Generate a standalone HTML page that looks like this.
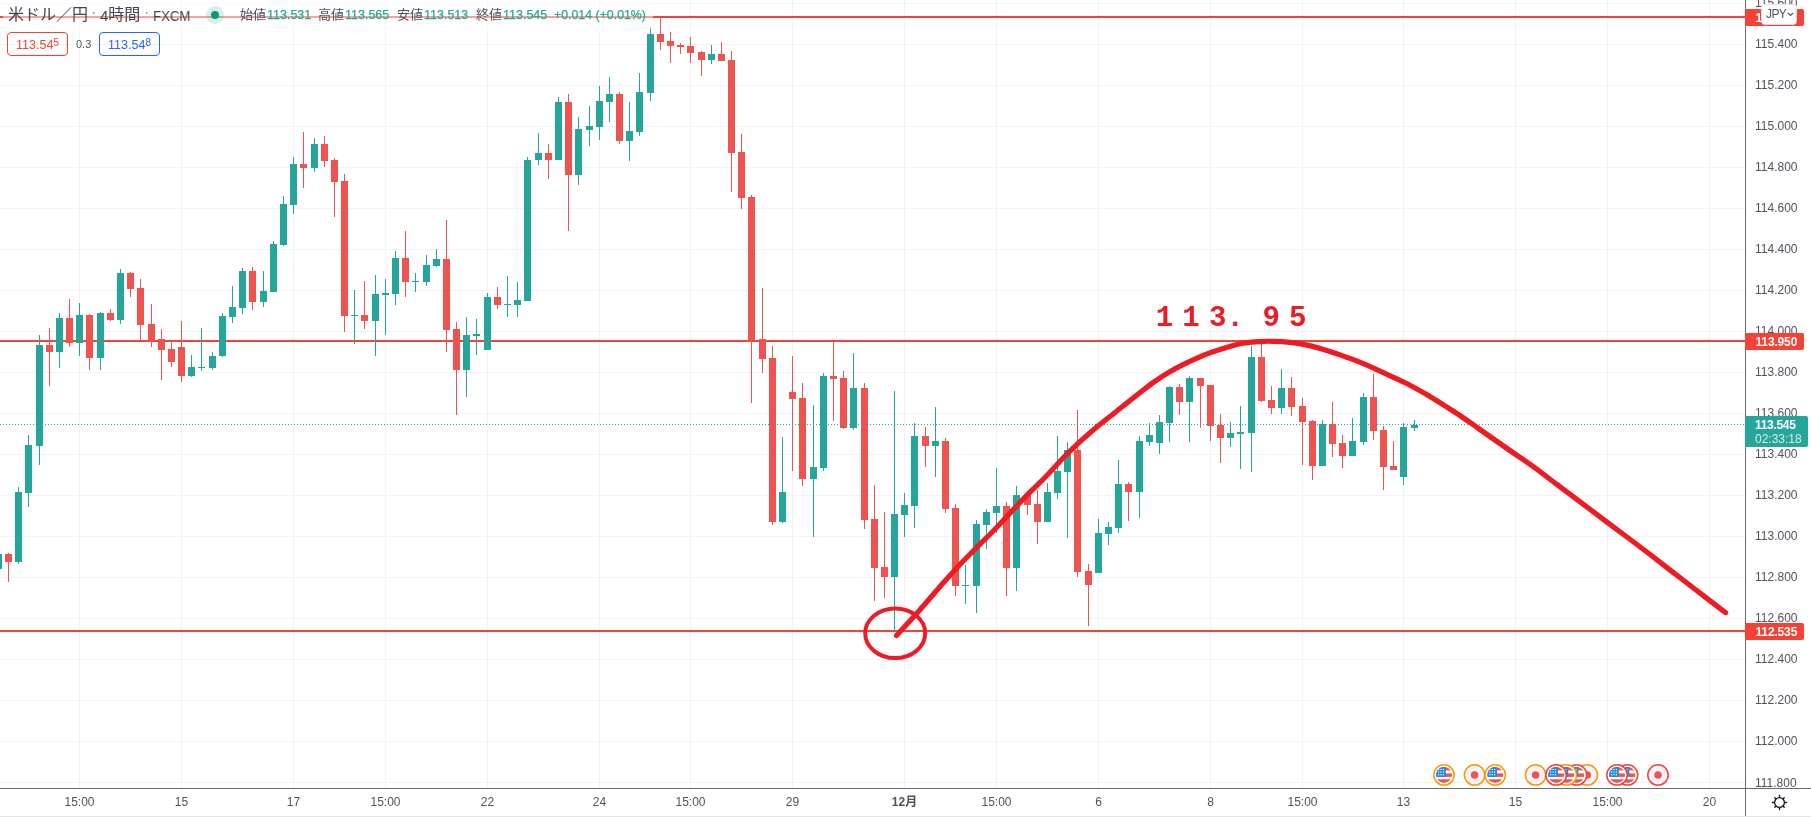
<!DOCTYPE html>
<html lang="ja"><head><meta charset="utf-8"><title>USDJPY</title>
<style>
html,body{margin:0;padding:0;background:#fff;}
body{width:1811px;height:817px;position:relative;overflow:hidden;font-family:"Liberation Sans","Noto Sans CJK JP",sans-serif;color:#50535e;}
svg{position:absolute;left:0;top:0;}
.pl{position:absolute;left:1755px;width:44px;height:14px;line-height:14px;font-size:12px;color:#50535e;white-space:nowrap;}
.tl{position:absolute;top:794px;width:61px;height:16px;line-height:16px;text-align:center;font-size:12px;color:#50535e;white-space:nowrap;}
.tag{position:absolute;left:1745px;width:59px;height:17px;background:#f44336;border-radius:0 2px 2px 0;color:#fff;font-weight:bold;font-size:12px;line-height:19px;letter-spacing:-0.15px;box-sizing:border-box;padding-left:10.5px;white-space:nowrap;}
.abs{position:absolute;white-space:nowrap;}
.pl,.tl,.tag,.abs{will-change:transform;}
</style></head><body>
<svg width="1811" height="817" viewBox="0 0 1811 817" shape-rendering="crispEdges">
<rect x="0" y="3" width="1745" height="1" fill="#f0f3fa"/>
<rect x="0" y="44" width="1745" height="1" fill="#f0f3fa"/>
<rect x="0" y="85" width="1745" height="1" fill="#f0f3fa"/>
<rect x="0" y="126" width="1745" height="1" fill="#f0f3fa"/>
<rect x="0" y="167" width="1745" height="1" fill="#f0f3fa"/>
<rect x="0" y="208" width="1745" height="1" fill="#f0f3fa"/>
<rect x="0" y="249" width="1745" height="1" fill="#f0f3fa"/>
<rect x="0" y="290" width="1745" height="1" fill="#f0f3fa"/>
<rect x="0" y="331" width="1745" height="1" fill="#f0f3fa"/>
<rect x="0" y="372" width="1745" height="1" fill="#f0f3fa"/>
<rect x="0" y="413" width="1745" height="1" fill="#f0f3fa"/>
<rect x="0" y="454" width="1745" height="1" fill="#f0f3fa"/>
<rect x="0" y="495" width="1745" height="1" fill="#f0f3fa"/>
<rect x="0" y="536" width="1745" height="1" fill="#f0f3fa"/>
<rect x="0" y="577" width="1745" height="1" fill="#f0f3fa"/>
<rect x="0" y="618" width="1745" height="1" fill="#f0f3fa"/>
<rect x="0" y="659" width="1745" height="1" fill="#f0f3fa"/>
<rect x="0" y="700" width="1745" height="1" fill="#f0f3fa"/>
<rect x="0" y="741" width="1745" height="1" fill="#f0f3fa"/>
<rect x="0" y="782" width="1745" height="1" fill="#f0f3fa"/>
<rect x="79" y="0" width="1" height="788" fill="#f0f3fa"/>
<rect x="181" y="0" width="1" height="788" fill="#f0f3fa"/>
<rect x="293" y="0" width="1" height="788" fill="#f0f3fa"/>
<rect x="385" y="0" width="1" height="788" fill="#f0f3fa"/>
<rect x="487" y="0" width="1" height="788" fill="#f0f3fa"/>
<rect x="599" y="0" width="1" height="788" fill="#f0f3fa"/>
<rect x="690" y="0" width="1" height="788" fill="#f0f3fa"/>
<rect x="792" y="0" width="1" height="788" fill="#f0f3fa"/>
<rect x="904" y="0" width="1" height="788" fill="#f0f3fa"/>
<rect x="996" y="0" width="1" height="788" fill="#f0f3fa"/>
<rect x="1098" y="0" width="1" height="788" fill="#f0f3fa"/>
<rect x="1210" y="0" width="1" height="788" fill="#f0f3fa"/>
<rect x="1302" y="0" width="1" height="788" fill="#f0f3fa"/>
<rect x="1403" y="0" width="1" height="788" fill="#f0f3fa"/>
<rect x="1515" y="0" width="1" height="788" fill="#f0f3fa"/>
<rect x="1607" y="0" width="1" height="788" fill="#f0f3fa"/>
<rect x="1709" y="0" width="1" height="788" fill="#f0f3fa"/>
<rect x="0" y="16" width="1745" height="2" fill="#f44336"/>
<rect x="0" y="340" width="1745" height="2" fill="#f44336"/>
<rect x="0" y="630" width="1745" height="2" fill="#f44336"/>
<rect x="-2" y="553" width="1" height="16" fill="#26a69a"/>
<rect x="-5" y="554" width="7" height="15" fill="#26a69a"/>
<rect x="8" y="553" width="1" height="29" fill="#ef5350"/>
<rect x="5" y="554" width="7" height="8" fill="#ef5350"/>
<rect x="18" y="487" width="1" height="77" fill="#26a69a"/>
<rect x="15" y="492" width="7" height="70" fill="#26a69a"/>
<rect x="28" y="435" width="1" height="72" fill="#26a69a"/>
<rect x="25" y="445" width="7" height="48" fill="#26a69a"/>
<rect x="39" y="335" width="1" height="130" fill="#26a69a"/>
<rect x="36" y="345" width="7" height="101" fill="#26a69a"/>
<rect x="49" y="328" width="1" height="58" fill="#ef5350"/>
<rect x="46" y="345" width="7" height="7" fill="#ef5350"/>
<rect x="59" y="313" width="1" height="55" fill="#26a69a"/>
<rect x="56" y="318" width="7" height="34" fill="#26a69a"/>
<rect x="69" y="299" width="1" height="48" fill="#ef5350"/>
<rect x="66" y="318" width="7" height="25" fill="#ef5350"/>
<rect x="79" y="303" width="1" height="53" fill="#26a69a"/>
<rect x="76" y="315" width="7" height="28" fill="#26a69a"/>
<rect x="89" y="314" width="1" height="56" fill="#ef5350"/>
<rect x="86" y="315" width="7" height="43" fill="#ef5350"/>
<rect x="100" y="312" width="1" height="58" fill="#26a69a"/>
<rect x="97" y="313" width="7" height="45" fill="#26a69a"/>
<rect x="110" y="309" width="1" height="12" fill="#ef5350"/>
<rect x="107" y="313" width="7" height="7" fill="#ef5350"/>
<rect x="120" y="269" width="1" height="55" fill="#26a69a"/>
<rect x="117" y="273" width="7" height="47" fill="#26a69a"/>
<rect x="130" y="272" width="1" height="25" fill="#ef5350"/>
<rect x="127" y="273" width="7" height="16" fill="#ef5350"/>
<rect x="140" y="279" width="1" height="62" fill="#ef5350"/>
<rect x="137" y="288" width="7" height="37" fill="#ef5350"/>
<rect x="151" y="304" width="1" height="43" fill="#ef5350"/>
<rect x="148" y="324" width="7" height="17" fill="#ef5350"/>
<rect x="161" y="329" width="1" height="51" fill="#ef5350"/>
<rect x="158" y="339" width="7" height="11" fill="#ef5350"/>
<rect x="171" y="341" width="1" height="26" fill="#ef5350"/>
<rect x="168" y="349" width="7" height="13" fill="#ef5350"/>
<rect x="181" y="321" width="1" height="61" fill="#ef5350"/>
<rect x="178" y="347" width="7" height="29" fill="#ef5350"/>
<rect x="191" y="355" width="1" height="22" fill="#26a69a"/>
<rect x="188" y="367" width="7" height="9" fill="#26a69a"/>
<rect x="201" y="328" width="1" height="43" fill="#26a69a"/>
<rect x="198" y="367" width="7" height="1" fill="#26a69a"/>
<rect x="212" y="352" width="1" height="18" fill="#26a69a"/>
<rect x="209" y="356" width="7" height="12" fill="#26a69a"/>
<rect x="222" y="313" width="1" height="44" fill="#26a69a"/>
<rect x="219" y="316" width="7" height="40" fill="#26a69a"/>
<rect x="232" y="286" width="1" height="37" fill="#26a69a"/>
<rect x="229" y="307" width="7" height="10" fill="#26a69a"/>
<rect x="242" y="268" width="1" height="46" fill="#26a69a"/>
<rect x="239" y="271" width="7" height="37" fill="#26a69a"/>
<rect x="252" y="267" width="1" height="43" fill="#ef5350"/>
<rect x="249" y="271" width="7" height="31" fill="#ef5350"/>
<rect x="263" y="271" width="1" height="36" fill="#26a69a"/>
<rect x="260" y="291" width="7" height="11" fill="#26a69a"/>
<rect x="273" y="241" width="1" height="51" fill="#26a69a"/>
<rect x="270" y="244" width="7" height="48" fill="#26a69a"/>
<rect x="283" y="196" width="1" height="50" fill="#26a69a"/>
<rect x="280" y="204" width="7" height="41" fill="#26a69a"/>
<rect x="293" y="157" width="1" height="57" fill="#26a69a"/>
<rect x="290" y="164" width="7" height="41" fill="#26a69a"/>
<rect x="303" y="132" width="1" height="56" fill="#ef5350"/>
<rect x="300" y="164" width="7" height="4" fill="#ef5350"/>
<rect x="314" y="138" width="1" height="34" fill="#26a69a"/>
<rect x="311" y="144" width="7" height="24" fill="#26a69a"/>
<rect x="324" y="136" width="1" height="31" fill="#ef5350"/>
<rect x="321" y="144" width="7" height="17" fill="#ef5350"/>
<rect x="334" y="158" width="1" height="59" fill="#ef5350"/>
<rect x="331" y="160" width="7" height="22" fill="#ef5350"/>
<rect x="344" y="174" width="1" height="158" fill="#ef5350"/>
<rect x="341" y="181" width="7" height="135" fill="#ef5350"/>
<rect x="354" y="290" width="1" height="54" fill="#26a69a"/>
<rect x="351" y="315" width="7" height="1" fill="#26a69a"/>
<rect x="364" y="281" width="1" height="48" fill="#ef5350"/>
<rect x="361" y="315" width="7" height="6" fill="#ef5350"/>
<rect x="375" y="275" width="1" height="81" fill="#26a69a"/>
<rect x="372" y="294" width="7" height="27" fill="#26a69a"/>
<rect x="385" y="279" width="1" height="56" fill="#26a69a"/>
<rect x="382" y="293" width="7" height="2" fill="#26a69a"/>
<rect x="395" y="251" width="1" height="54" fill="#26a69a"/>
<rect x="392" y="258" width="7" height="36" fill="#26a69a"/>
<rect x="405" y="231" width="1" height="66" fill="#ef5350"/>
<rect x="402" y="258" width="7" height="24" fill="#ef5350"/>
<rect x="415" y="273" width="1" height="19" fill="#26a69a"/>
<rect x="412" y="281" width="7" height="1" fill="#26a69a"/>
<rect x="426" y="255" width="1" height="31" fill="#26a69a"/>
<rect x="423" y="265" width="7" height="17" fill="#26a69a"/>
<rect x="436" y="249" width="1" height="18" fill="#26a69a"/>
<rect x="433" y="259" width="7" height="7" fill="#26a69a"/>
<rect x="446" y="220" width="1" height="132" fill="#ef5350"/>
<rect x="443" y="259" width="7" height="71" fill="#ef5350"/>
<rect x="456" y="322" width="1" height="93" fill="#ef5350"/>
<rect x="453" y="329" width="7" height="41" fill="#ef5350"/>
<rect x="466" y="317" width="1" height="80" fill="#26a69a"/>
<rect x="463" y="335" width="7" height="35" fill="#26a69a"/>
<rect x="476" y="319" width="1" height="36" fill="#26a69a"/>
<rect x="473" y="334" width="7" height="2" fill="#26a69a"/>
<rect x="487" y="293" width="1" height="57" fill="#26a69a"/>
<rect x="484" y="297" width="7" height="53" fill="#26a69a"/>
<rect x="497" y="287" width="1" height="22" fill="#ef5350"/>
<rect x="494" y="297" width="7" height="8" fill="#ef5350"/>
<rect x="507" y="276" width="1" height="41" fill="#26a69a"/>
<rect x="504" y="304" width="7" height="1" fill="#26a69a"/>
<rect x="517" y="282" width="1" height="35" fill="#26a69a"/>
<rect x="514" y="300" width="7" height="5" fill="#26a69a"/>
<rect x="527" y="157" width="1" height="144" fill="#26a69a"/>
<rect x="524" y="160" width="7" height="141" fill="#26a69a"/>
<rect x="538" y="133" width="1" height="32" fill="#26a69a"/>
<rect x="535" y="153" width="7" height="7" fill="#26a69a"/>
<rect x="548" y="144" width="1" height="35" fill="#ef5350"/>
<rect x="545" y="153" width="7" height="7" fill="#ef5350"/>
<rect x="558" y="97" width="1" height="63" fill="#26a69a"/>
<rect x="555" y="102" width="7" height="58" fill="#26a69a"/>
<rect x="568" y="94" width="1" height="137" fill="#ef5350"/>
<rect x="565" y="102" width="7" height="73" fill="#ef5350"/>
<rect x="578" y="117" width="1" height="68" fill="#26a69a"/>
<rect x="575" y="129" width="7" height="46" fill="#26a69a"/>
<rect x="589" y="106" width="1" height="40" fill="#26a69a"/>
<rect x="586" y="126" width="7" height="4" fill="#26a69a"/>
<rect x="599" y="86" width="1" height="54" fill="#26a69a"/>
<rect x="596" y="101" width="7" height="26" fill="#26a69a"/>
<rect x="609" y="77" width="1" height="45" fill="#26a69a"/>
<rect x="606" y="94" width="7" height="8" fill="#26a69a"/>
<rect x="619" y="92" width="1" height="52" fill="#ef5350"/>
<rect x="616" y="94" width="7" height="47" fill="#ef5350"/>
<rect x="629" y="102" width="1" height="59" fill="#26a69a"/>
<rect x="626" y="131" width="7" height="10" fill="#26a69a"/>
<rect x="639" y="73" width="1" height="63" fill="#26a69a"/>
<rect x="636" y="92" width="7" height="40" fill="#26a69a"/>
<rect x="650" y="27" width="1" height="74" fill="#26a69a"/>
<rect x="647" y="34" width="7" height="59" fill="#26a69a"/>
<rect x="660" y="17" width="1" height="33" fill="#ef5350"/>
<rect x="657" y="34" width="7" height="8" fill="#ef5350"/>
<rect x="670" y="32" width="1" height="31" fill="#ef5350"/>
<rect x="667" y="41" width="7" height="5" fill="#ef5350"/>
<rect x="680" y="43" width="1" height="11" fill="#ef5350"/>
<rect x="677" y="45" width="7" height="2" fill="#ef5350"/>
<rect x="690" y="37" width="1" height="26" fill="#ef5350"/>
<rect x="687" y="46" width="7" height="7" fill="#ef5350"/>
<rect x="701" y="51" width="1" height="25" fill="#ef5350"/>
<rect x="698" y="52" width="7" height="8" fill="#ef5350"/>
<rect x="711" y="45" width="1" height="19" fill="#26a69a"/>
<rect x="708" y="54" width="7" height="6" fill="#26a69a"/>
<rect x="721" y="42" width="1" height="19" fill="#ef5350"/>
<rect x="718" y="54" width="7" height="7" fill="#ef5350"/>
<rect x="731" y="51" width="1" height="141" fill="#ef5350"/>
<rect x="728" y="60" width="7" height="93" fill="#ef5350"/>
<rect x="741" y="134" width="1" height="75" fill="#ef5350"/>
<rect x="738" y="152" width="7" height="46" fill="#ef5350"/>
<rect x="751" y="195" width="1" height="208" fill="#ef5350"/>
<rect x="748" y="197" width="7" height="144" fill="#ef5350"/>
<rect x="762" y="288" width="1" height="85" fill="#ef5350"/>
<rect x="759" y="339" width="7" height="20" fill="#ef5350"/>
<rect x="772" y="346" width="1" height="179" fill="#ef5350"/>
<rect x="769" y="358" width="7" height="164" fill="#ef5350"/>
<rect x="782" y="437" width="1" height="86" fill="#26a69a"/>
<rect x="779" y="492" width="7" height="30" fill="#26a69a"/>
<rect x="792" y="356" width="1" height="115" fill="#ef5350"/>
<rect x="789" y="392" width="7" height="7" fill="#ef5350"/>
<rect x="802" y="383" width="1" height="103" fill="#ef5350"/>
<rect x="799" y="398" width="7" height="81" fill="#ef5350"/>
<rect x="813" y="405" width="1" height="132" fill="#26a69a"/>
<rect x="810" y="467" width="7" height="12" fill="#26a69a"/>
<rect x="823" y="373" width="1" height="98" fill="#26a69a"/>
<rect x="820" y="376" width="7" height="92" fill="#26a69a"/>
<rect x="833" y="341" width="1" height="80" fill="#ef5350"/>
<rect x="830" y="376" width="7" height="3" fill="#ef5350"/>
<rect x="843" y="371" width="1" height="58" fill="#ef5350"/>
<rect x="840" y="378" width="7" height="50" fill="#ef5350"/>
<rect x="853" y="353" width="1" height="77" fill="#26a69a"/>
<rect x="850" y="388" width="7" height="40" fill="#26a69a"/>
<rect x="864" y="383" width="1" height="146" fill="#ef5350"/>
<rect x="861" y="388" width="7" height="132" fill="#ef5350"/>
<rect x="874" y="485" width="1" height="116" fill="#ef5350"/>
<rect x="871" y="519" width="7" height="49" fill="#ef5350"/>
<rect x="884" y="512" width="1" height="86" fill="#ef5350"/>
<rect x="881" y="567" width="7" height="10" fill="#ef5350"/>
<rect x="894" y="391" width="1" height="241" fill="#26a69a"/>
<rect x="891" y="514" width="7" height="63" fill="#26a69a"/>
<rect x="904" y="493" width="1" height="44" fill="#26a69a"/>
<rect x="901" y="505" width="7" height="10" fill="#26a69a"/>
<rect x="914" y="423" width="1" height="105" fill="#26a69a"/>
<rect x="911" y="436" width="7" height="70" fill="#26a69a"/>
<rect x="925" y="427" width="1" height="40" fill="#ef5350"/>
<rect x="922" y="436" width="7" height="10" fill="#ef5350"/>
<rect x="935" y="407" width="1" height="70" fill="#26a69a"/>
<rect x="932" y="441" width="7" height="5" fill="#26a69a"/>
<rect x="945" y="438" width="1" height="75" fill="#ef5350"/>
<rect x="942" y="441" width="7" height="68" fill="#ef5350"/>
<rect x="955" y="504" width="1" height="92" fill="#ef5350"/>
<rect x="952" y="508" width="7" height="78" fill="#ef5350"/>
<rect x="965" y="565" width="1" height="39" fill="#26a69a"/>
<rect x="962" y="585" width="7" height="1" fill="#26a69a"/>
<rect x="976" y="520" width="1" height="93" fill="#26a69a"/>
<rect x="973" y="524" width="7" height="62" fill="#26a69a"/>
<rect x="986" y="509" width="1" height="40" fill="#26a69a"/>
<rect x="983" y="512" width="7" height="13" fill="#26a69a"/>
<rect x="996" y="468" width="1" height="65" fill="#26a69a"/>
<rect x="993" y="506" width="7" height="7" fill="#26a69a"/>
<rect x="1006" y="502" width="1" height="94" fill="#ef5350"/>
<rect x="1003" y="506" width="7" height="62" fill="#ef5350"/>
<rect x="1016" y="486" width="1" height="105" fill="#26a69a"/>
<rect x="1013" y="495" width="7" height="73" fill="#26a69a"/>
<rect x="1027" y="495" width="1" height="20" fill="#ef5350"/>
<rect x="1024" y="495" width="7" height="10" fill="#ef5350"/>
<rect x="1037" y="490" width="1" height="54" fill="#ef5350"/>
<rect x="1034" y="504" width="7" height="18" fill="#ef5350"/>
<rect x="1047" y="483" width="1" height="39" fill="#26a69a"/>
<rect x="1044" y="492" width="7" height="30" fill="#26a69a"/>
<rect x="1057" y="436" width="1" height="63" fill="#26a69a"/>
<rect x="1054" y="471" width="7" height="22" fill="#26a69a"/>
<rect x="1067" y="442" width="1" height="96" fill="#26a69a"/>
<rect x="1064" y="450" width="7" height="22" fill="#26a69a"/>
<rect x="1077" y="410" width="1" height="167" fill="#ef5350"/>
<rect x="1074" y="450" width="7" height="122" fill="#ef5350"/>
<rect x="1088" y="564" width="1" height="62" fill="#ef5350"/>
<rect x="1085" y="571" width="7" height="14" fill="#ef5350"/>
<rect x="1098" y="519" width="1" height="54" fill="#26a69a"/>
<rect x="1095" y="533" width="7" height="40" fill="#26a69a"/>
<rect x="1108" y="522" width="1" height="23" fill="#26a69a"/>
<rect x="1105" y="527" width="7" height="7" fill="#26a69a"/>
<rect x="1118" y="460" width="1" height="73" fill="#26a69a"/>
<rect x="1115" y="484" width="7" height="44" fill="#26a69a"/>
<rect x="1128" y="482" width="1" height="39" fill="#ef5350"/>
<rect x="1125" y="484" width="7" height="8" fill="#ef5350"/>
<rect x="1139" y="436" width="1" height="82" fill="#26a69a"/>
<rect x="1136" y="441" width="7" height="51" fill="#26a69a"/>
<rect x="1149" y="423" width="1" height="23" fill="#26a69a"/>
<rect x="1146" y="435" width="7" height="7" fill="#26a69a"/>
<rect x="1159" y="415" width="1" height="39" fill="#26a69a"/>
<rect x="1156" y="422" width="7" height="21" fill="#26a69a"/>
<rect x="1169" y="386" width="1" height="56" fill="#26a69a"/>
<rect x="1166" y="387" width="7" height="36" fill="#26a69a"/>
<rect x="1179" y="384" width="1" height="31" fill="#ef5350"/>
<rect x="1176" y="387" width="7" height="15" fill="#ef5350"/>
<rect x="1189" y="376" width="1" height="66" fill="#26a69a"/>
<rect x="1186" y="378" width="7" height="24" fill="#26a69a"/>
<rect x="1200" y="378" width="1" height="50" fill="#ef5350"/>
<rect x="1197" y="378" width="7" height="8" fill="#ef5350"/>
<rect x="1210" y="385" width="1" height="56" fill="#ef5350"/>
<rect x="1207" y="385" width="7" height="41" fill="#ef5350"/>
<rect x="1220" y="414" width="1" height="49" fill="#ef5350"/>
<rect x="1217" y="425" width="7" height="13" fill="#ef5350"/>
<rect x="1230" y="422" width="1" height="25" fill="#26a69a"/>
<rect x="1227" y="433" width="7" height="5" fill="#26a69a"/>
<rect x="1240" y="406" width="1" height="63" fill="#26a69a"/>
<rect x="1237" y="432" width="7" height="2" fill="#26a69a"/>
<rect x="1251" y="346" width="1" height="126" fill="#26a69a"/>
<rect x="1248" y="357" width="7" height="76" fill="#26a69a"/>
<rect x="1261" y="343" width="1" height="59" fill="#ef5350"/>
<rect x="1258" y="357" width="7" height="44" fill="#ef5350"/>
<rect x="1271" y="386" width="1" height="28" fill="#ef5350"/>
<rect x="1268" y="400" width="7" height="8" fill="#ef5350"/>
<rect x="1281" y="369" width="1" height="45" fill="#26a69a"/>
<rect x="1278" y="388" width="7" height="20" fill="#26a69a"/>
<rect x="1291" y="377" width="1" height="39" fill="#ef5350"/>
<rect x="1288" y="388" width="7" height="19" fill="#ef5350"/>
<rect x="1302" y="398" width="1" height="67" fill="#ef5350"/>
<rect x="1299" y="406" width="7" height="16" fill="#ef5350"/>
<rect x="1312" y="420" width="1" height="60" fill="#ef5350"/>
<rect x="1309" y="421" width="7" height="45" fill="#ef5350"/>
<rect x="1322" y="420" width="1" height="46" fill="#26a69a"/>
<rect x="1319" y="424" width="7" height="42" fill="#26a69a"/>
<rect x="1332" y="402" width="1" height="55" fill="#ef5350"/>
<rect x="1329" y="424" width="7" height="20" fill="#ef5350"/>
<rect x="1342" y="435" width="1" height="33" fill="#ef5350"/>
<rect x="1339" y="443" width="7" height="13" fill="#ef5350"/>
<rect x="1352" y="418" width="1" height="38" fill="#26a69a"/>
<rect x="1349" y="441" width="7" height="15" fill="#26a69a"/>
<rect x="1363" y="393" width="1" height="52" fill="#26a69a"/>
<rect x="1360" y="397" width="7" height="45" fill="#26a69a"/>
<rect x="1373" y="374" width="1" height="66" fill="#ef5350"/>
<rect x="1370" y="397" width="7" height="34" fill="#ef5350"/>
<rect x="1383" y="426" width="1" height="64" fill="#ef5350"/>
<rect x="1380" y="430" width="7" height="37" fill="#ef5350"/>
<rect x="1393" y="441" width="1" height="29" fill="#ef5350"/>
<rect x="1390" y="466" width="7" height="4" fill="#ef5350"/>
<rect x="1403" y="423" width="1" height="62" fill="#26a69a"/>
<rect x="1400" y="427" width="7" height="50" fill="#26a69a"/>
<rect x="1414" y="420" width="1" height="11" fill="#26a69a"/>
<rect x="1411" y="425" width="7" height="3" fill="#26a69a"/>
<line x1="0" y1="424.5" x2="1745" y2="424.5" stroke="#26a69a" stroke-width="1" stroke-dasharray="1 2"/>
</svg>
<svg width="1811" height="817" viewBox="0 0 1811 817">
<defs><clipPath id="fc"><circle r="8"/></clipPath></defs><g transform="translate(1444 774.9)"><circle r="10.2" fill="#fff" stroke="#ff9800" stroke-width="1.5"/><g clip-path="url(#fc)"><rect x="-8" y="-8" width="16" height="16" fill="#fff"/><rect x="-8" y="-8" width="16" height="3.5" fill="#ef5350"/><rect x="-8" y="-1.5" width="16" height="3.5" fill="#ef5350"/><rect x="-8" y="4.4" width="16" height="3.6" fill="#ef5350"/><rect x="-8" y="-8" width="9.8" height="10" fill="#1e88e5"/><g fill="#fff"><rect x="-6" y="-6" width="1.2" height="1.2"/><rect x="-3.6" y="-6" width="1.2" height="1.2"/><rect x="-1.2" y="-6" width="1.2" height="1.2"/><rect x="-6" y="-3.4" width="1.2" height="1.2"/><rect x="-3.6" y="-3.4" width="1.2" height="1.2"/><rect x="-1.2" y="-3.4" width="1.2" height="1.2"/><rect x="-6" y="-0.8" width="1.2" height="1.2"/><rect x="-3.6" y="-0.8" width="1.2" height="1.2"/><rect x="-1.2" y="-0.8" width="1.2" height="1.2"/></g></g></g><g transform="translate(1474.6 774.9)"><circle r="10.2" fill="#f0f3fa" stroke="#ff9800" stroke-width="1.5"/><circle r="3.75" fill="#ef5350"/></g><g transform="translate(1495.2 774.9)"><circle r="10.2" fill="#fff" stroke="#ff9800" stroke-width="1.5"/><g clip-path="url(#fc)"><rect x="-8" y="-8" width="16" height="16" fill="#fff"/><rect x="-8" y="-8" width="16" height="3.5" fill="#ef5350"/><rect x="-8" y="-1.5" width="16" height="3.5" fill="#ef5350"/><rect x="-8" y="4.4" width="16" height="3.6" fill="#ef5350"/><rect x="-8" y="-8" width="9.8" height="10" fill="#1e88e5"/><g fill="#fff"><rect x="-6" y="-6" width="1.2" height="1.2"/><rect x="-3.6" y="-6" width="1.2" height="1.2"/><rect x="-1.2" y="-6" width="1.2" height="1.2"/><rect x="-6" y="-3.4" width="1.2" height="1.2"/><rect x="-3.6" y="-3.4" width="1.2" height="1.2"/><rect x="-1.2" y="-3.4" width="1.2" height="1.2"/><rect x="-6" y="-0.8" width="1.2" height="1.2"/><rect x="-3.6" y="-0.8" width="1.2" height="1.2"/><rect x="-1.2" y="-0.8" width="1.2" height="1.2"/></g></g></g><g transform="translate(1587.3 774.9)"><circle r="10.2" fill="#f0f3fa" stroke="#ff9800" stroke-width="1.5"/><circle r="3.75" fill="#ef5350"/></g><g transform="translate(1576.5 774.9)"><circle r="10.2" fill="#fff" stroke="#f44336" stroke-width="1.5"/><g clip-path="url(#fc)"><rect x="-8" y="-8" width="16" height="16" fill="#fff"/><rect x="-8" y="-8" width="16" height="3.5" fill="#ef5350"/><rect x="-8" y="-1.5" width="16" height="3.5" fill="#ef5350"/><rect x="-8" y="4.4" width="16" height="3.6" fill="#ef5350"/><rect x="-8" y="-8" width="9.8" height="10" fill="#1e88e5"/><g fill="#fff"><rect x="-6" y="-6" width="1.2" height="1.2"/><rect x="-3.6" y="-6" width="1.2" height="1.2"/><rect x="-1.2" y="-6" width="1.2" height="1.2"/><rect x="-6" y="-3.4" width="1.2" height="1.2"/><rect x="-3.6" y="-3.4" width="1.2" height="1.2"/><rect x="-1.2" y="-3.4" width="1.2" height="1.2"/><rect x="-6" y="-0.8" width="1.2" height="1.2"/><rect x="-3.6" y="-0.8" width="1.2" height="1.2"/><rect x="-1.2" y="-0.8" width="1.2" height="1.2"/></g></g></g><g transform="translate(1566.4 774.9)"><circle r="10.2" fill="#fff" stroke="#ff9800" stroke-width="1.5"/><g clip-path="url(#fc)"><rect x="-8" y="-8" width="16" height="16" fill="#fff"/><rect x="-8" y="-8" width="16" height="3.5" fill="#ef5350"/><rect x="-8" y="-1.5" width="16" height="3.5" fill="#ef5350"/><rect x="-8" y="4.4" width="16" height="3.6" fill="#ef5350"/><rect x="-8" y="-8" width="9.8" height="10" fill="#1e88e5"/><g fill="#fff"><rect x="-6" y="-6" width="1.2" height="1.2"/><rect x="-3.6" y="-6" width="1.2" height="1.2"/><rect x="-1.2" y="-6" width="1.2" height="1.2"/><rect x="-6" y="-3.4" width="1.2" height="1.2"/><rect x="-3.6" y="-3.4" width="1.2" height="1.2"/><rect x="-1.2" y="-3.4" width="1.2" height="1.2"/><rect x="-6" y="-0.8" width="1.2" height="1.2"/><rect x="-3.6" y="-0.8" width="1.2" height="1.2"/><rect x="-1.2" y="-0.8" width="1.2" height="1.2"/></g></g></g><g transform="translate(1535.6 774.9)"><circle r="10.2" fill="#f0f3fa" stroke="#ff9800" stroke-width="1.5"/><circle r="3.75" fill="#ef5350"/></g><g transform="translate(1556.1 774.9)"><circle r="10.2" fill="#fff" stroke="#f44336" stroke-width="1.5"/><g clip-path="url(#fc)"><rect x="-8" y="-8" width="16" height="16" fill="#fff"/><rect x="-8" y="-8" width="16" height="3.5" fill="#ef5350"/><rect x="-8" y="-1.5" width="16" height="3.5" fill="#ef5350"/><rect x="-8" y="4.4" width="16" height="3.6" fill="#ef5350"/><rect x="-8" y="-8" width="9.8" height="10" fill="#1e88e5"/><g fill="#fff"><rect x="-6" y="-6" width="1.2" height="1.2"/><rect x="-3.6" y="-6" width="1.2" height="1.2"/><rect x="-1.2" y="-6" width="1.2" height="1.2"/><rect x="-6" y="-3.4" width="1.2" height="1.2"/><rect x="-3.6" y="-3.4" width="1.2" height="1.2"/><rect x="-1.2" y="-3.4" width="1.2" height="1.2"/><rect x="-6" y="-0.8" width="1.2" height="1.2"/><rect x="-3.6" y="-0.8" width="1.2" height="1.2"/><rect x="-1.2" y="-0.8" width="1.2" height="1.2"/></g></g></g><g transform="translate(1627.5 774.9)"><circle r="10.2" fill="#fff" stroke="#f44336" stroke-width="1.5"/><g clip-path="url(#fc)"><rect x="-8" y="-8" width="16" height="16" fill="#fff"/><rect x="-8" y="-8" width="16" height="3.5" fill="#ef5350"/><rect x="-8" y="-1.5" width="16" height="3.5" fill="#ef5350"/><rect x="-8" y="4.4" width="16" height="3.6" fill="#ef5350"/><rect x="-8" y="-8" width="9.8" height="10" fill="#1e88e5"/><g fill="#fff"><rect x="-6" y="-6" width="1.2" height="1.2"/><rect x="-3.6" y="-6" width="1.2" height="1.2"/><rect x="-1.2" y="-6" width="1.2" height="1.2"/><rect x="-6" y="-3.4" width="1.2" height="1.2"/><rect x="-3.6" y="-3.4" width="1.2" height="1.2"/><rect x="-1.2" y="-3.4" width="1.2" height="1.2"/><rect x="-6" y="-0.8" width="1.2" height="1.2"/><rect x="-3.6" y="-0.8" width="1.2" height="1.2"/><rect x="-1.2" y="-0.8" width="1.2" height="1.2"/></g></g></g><g transform="translate(1617 774.9)"><circle r="10.2" fill="#fff" stroke="#f44336" stroke-width="1.5"/><g clip-path="url(#fc)"><rect x="-8" y="-8" width="16" height="16" fill="#fff"/><rect x="-8" y="-8" width="16" height="3.5" fill="#ef5350"/><rect x="-8" y="-1.5" width="16" height="3.5" fill="#ef5350"/><rect x="-8" y="4.4" width="16" height="3.6" fill="#ef5350"/><rect x="-8" y="-8" width="9.8" height="10" fill="#1e88e5"/><g fill="#fff"><rect x="-6" y="-6" width="1.2" height="1.2"/><rect x="-3.6" y="-6" width="1.2" height="1.2"/><rect x="-1.2" y="-6" width="1.2" height="1.2"/><rect x="-6" y="-3.4" width="1.2" height="1.2"/><rect x="-3.6" y="-3.4" width="1.2" height="1.2"/><rect x="-1.2" y="-3.4" width="1.2" height="1.2"/><rect x="-6" y="-0.8" width="1.2" height="1.2"/><rect x="-3.6" y="-0.8" width="1.2" height="1.2"/><rect x="-1.2" y="-0.8" width="1.2" height="1.2"/></g></g></g><g transform="translate(1658 774.9)"><circle r="10.2" fill="#f0f3fa" stroke="#f44336" stroke-width="1.5"/><circle r="3.75" fill="#ef5350"/></g>
<rect x="1745" y="0" width="1" height="816" fill="#686b76"/><rect x="0" y="788" width="1811" height="1" fill="#686b76"/><rect x="0" y="816" width="1811" height="1" fill="#e0e3eb"/>
<g stroke="#131722" stroke-width="1.3" fill="none" stroke-linecap="round"><circle cx="1779.5" cy="802.5" r="4.9"/><line x1="1784.70" y1="802.50" x2="1786.60" y2="802.50"/><line x1="1783.18" y1="806.18" x2="1784.24" y2="807.24"/><line x1="1779.50" y1="807.70" x2="1779.50" y2="809.60"/><line x1="1775.82" y1="806.18" x2="1774.76" y2="807.24"/><line x1="1774.30" y1="802.50" x2="1772.40" y2="802.50"/><line x1="1775.82" y1="798.82" x2="1774.76" y2="797.76"/><line x1="1779.50" y1="797.30" x2="1779.50" y2="795.40"/><line x1="1783.18" y1="798.82" x2="1784.24" y2="797.76"/></g>
</svg>
<div class="pl" style="top:-4px">115.600</div><div class="pl" style="top:37px">115.400</div><div class="pl" style="top:78px">115.200</div><div class="pl" style="top:119px">115.000</div><div class="pl" style="top:160px">114.800</div><div class="pl" style="top:201px">114.600</div><div class="pl" style="top:242px">114.400</div><div class="pl" style="top:283px">114.200</div><div class="pl" style="top:324px">114.000</div><div class="pl" style="top:365px">113.800</div><div class="pl" style="top:406px">113.600</div><div class="pl" style="top:447px">113.400</div><div class="pl" style="top:488px">113.200</div><div class="pl" style="top:529px">113.000</div><div class="pl" style="top:570px">112.800</div><div class="pl" style="top:611px">112.600</div><div class="pl" style="top:652px">112.400</div><div class="pl" style="top:693px">112.200</div><div class="pl" style="top:734px">112.000</div><div class="pl" style="top:776px">111.800</div>
<div class="tl" style="left:49px">15:00</div><div class="tl" style="left:151px">15</div><div class="tl" style="left:263px">17</div><div class="tl" style="left:355px">15:00</div><div class="tl" style="left:457px">22</div><div class="tl" style="left:569px">24</div><div class="tl" style="left:660px">15:00</div><div class="tl" style="left:762px">29</div><div class="tl" style="left:874px;font-weight:bold">12月</div><div class="tl" style="left:966px">15:00</div><div class="tl" style="left:1068px">6</div><div class="tl" style="left:1180px">8</div><div class="tl" style="left:1272px">15:00</div><div class="tl" style="left:1373px">13</div><div class="tl" style="left:1485px">15</div><div class="tl" style="left:1577px">15:00</div><div class="tl" style="left:1679px">20</div>
<div class="tag" style="top:9px">115.536</div>
<div class="tag" style="top:333px">113.950</div>
<div class="tag" style="top:623px">112.535</div>
<div class="abs" style="left:1745px;top:416px;width:63px;height:31px;background:#26a69a;border-radius:0 2px 2px 0;color:#fff;font-size:12px;box-sizing:border-box;padding-left:10px;letter-spacing:-0.3px;"><div style="font-weight:bold;line-height:14px;margin-top:2px;">113.545</div><div style="line-height:14px;color:rgba(255,255,255,.8);letter-spacing:0;">02:33:18</div></div>
<div class="abs" style="left:1761px;top:4px;width:36px;height:21px;background:#fff;border:1px solid #e0e3eb;border-radius:4px;box-sizing:border-box;font-size:12px;line-height:19px;color:#50535e;padding-left:4px;letter-spacing:-0.6px;">JPY<svg style="left:25px;top:7px" width="7" height="5" viewBox="0 0 7 5"><path d="M0.8 0.8 L3.5 3.5 L6.2 0.8" fill="none" stroke="#50535e" stroke-width="1.2"/></svg></div>
<!-- legend -->
<div class="abs" style="left:3px;top:3px;width:650px;height:26px;background:rgba(255,255,255,.5);"></div>
<div class="abs ttl" style="left:8px;">米ドル／円</div><div class="abs ttl" style="left:91px;top:1px;color:#9598a1;">·</div><div class="abs ttl" style="left:100px;"><span style="font-size:15px;position:relative;top:1px;">4</span>時間</div><div class="abs ttl" style="left:144px;top:1px;color:#9598a1;">·</div><div class="abs ttl" style="left:153px;top:4px;font-size:15px;transform:scaleX(.88);transform-origin:0 0;">FXCM</div>
<div class="abs" style="left:206px;top:6px;width:18px;height:18px;border-radius:9px;background:rgba(38,166,154,.18);"></div>
<div class="abs" style="left:211px;top:11px;width:8px;height:8px;border-radius:4px;background:#089981;"></div>
<div class="abs oh" style="left:239.7px;">始値<span class="v">113.531</span></div><div class="abs oh" style="left:318.1px;">高値<span class="v">113.565</span></div><div class="abs oh" style="left:397.4px;">安値<span class="v">113.513</span></div><div class="abs oh" style="left:476.2px;">終値<span class="v">113.545</span></div><div class="abs oh" style="left:553.3px;"><span class="v" style="font-size:12.35px;">+0.014 (+0.01%)</span></div>
<style>
.ttl{top:3px;height:24px;line-height:24px;font-size:16px;color:#434651;}
.oh{top:5px;height:20px;line-height:20px;font-size:13px;color:#50535e;}
.oh .v{color:#26a69a;font-size:12.5px;margin-left:1px;-webkit-text-stroke:0.25px #26a69a;}
</style>
<div class="abs" style="left:7px;top:32px;width:61px;height:24px;border:1px solid #f44336;border-radius:4px;box-sizing:border-box;color:#f44336;font-size:12.5px;line-height:24px;text-align:center;">113.54<span style="font-size:10px;position:relative;top:-3px;">5</span></div>
<div class="abs" style="left:76px;top:37px;font-size:11px;line-height:14px;color:#50535e;">0.3</div>
<div class="abs" style="left:99px;top:32px;width:61px;height:24px;border:1px solid #2962ff;border-radius:4px;box-sizing:border-box;color:#2962ff;font-size:12.5px;line-height:24px;text-align:center;">113.54<span style="font-size:10px;position:relative;top:-3px;">8</span></div>
<!-- hand drawn annotations -->
<svg width="1811" height="817" viewBox="0 0 1811 817">
<path d="M896.5 635.5 C900.4 631.2 912.0 618.7 920.0 609.7 C928.0 600.7 937.8 589.1 944.5 581.6 C951.2 574.1 954.6 570.4 960.0 564.6 C965.4 558.9 971.4 552.9 977.1 547.1 C982.8 541.3 988.6 535.9 994.3 530.0 C1000.0 524.1 1005.7 517.7 1011.4 511.6 C1017.1 505.5 1022.8 499.4 1028.5 493.6 C1034.2 487.8 1039.9 482.8 1045.7 476.8 C1051.5 470.8 1058.2 463.1 1063.3 457.8 C1068.4 452.5 1072.5 448.7 1076.5 444.9 C1080.5 441.1 1083.8 438.2 1087.5 435.0 C1091.2 431.8 1094.9 428.6 1098.6 425.6 C1102.3 422.6 1105.9 419.7 1109.6 416.8 C1113.3 413.9 1116.9 410.9 1120.6 408.0 C1124.3 405.1 1127.9 402.2 1131.6 399.3 C1135.3 396.4 1139.2 393.3 1143.0 390.3 C1146.8 387.3 1150.3 384.5 1154.7 381.5 C1159.1 378.5 1164.5 375.0 1169.4 372.1 C1174.3 369.2 1179.2 366.6 1184.1 364.2 C1189.0 361.8 1194.4 359.3 1198.8 357.4 C1203.2 355.5 1205.6 354.3 1210.5 352.6 C1215.4 350.9 1222.7 348.6 1228.1 347.0 C1233.5 345.4 1237.9 344.2 1242.8 343.3 C1247.7 342.4 1252.5 341.9 1257.5 341.6 C1262.5 341.3 1267.1 341.2 1272.5 341.3 C1277.9 341.4 1284.2 341.7 1290.0 342.3 C1295.8 342.9 1301.4 343.9 1307.1 345.1 C1312.8 346.3 1318.6 348.0 1324.3 349.7 C1330.0 351.4 1335.7 353.4 1341.4 355.4 C1347.1 357.4 1352.8 359.4 1358.5 361.7 C1364.2 364.0 1370.0 366.5 1375.7 369.1 C1381.4 371.7 1387.1 374.4 1392.8 377.1 C1398.5 379.8 1404.2 382.2 1409.9 385.2 C1415.6 388.1 1421.4 391.4 1427.1 394.8 C1432.8 398.2 1438.5 401.8 1444.2 405.4 C1449.9 409.0 1455.7 412.6 1461.4 416.5 C1467.1 420.4 1472.8 424.5 1478.5 428.5 C1484.2 432.5 1489.9 436.5 1495.6 440.5 C1501.3 444.5 1506.5 448.1 1512.8 452.5 C1519.1 456.9 1526.0 461.4 1533.3 466.7 C1540.6 472.0 1548.8 478.4 1556.5 484.2 C1564.2 490.0 1572.0 495.8 1579.8 501.6 C1587.5 507.4 1595.2 513.3 1603.0 519.1 C1610.8 524.9 1618.5 530.7 1626.3 536.5 C1634.0 542.3 1641.8 548.1 1649.5 554.0 C1657.2 559.9 1665.0 566.1 1672.8 572.1 C1680.5 578.1 1688.2 584.0 1696.0 590.0 C1703.8 596.0 1714.4 604.1 1719.3 607.9 C1724.2 611.7 1724.5 611.8 1725.6 612.6" fill="none" stroke="#ed1c24" stroke-width="5.2" stroke-linecap="round" stroke-linejoin="round"/><ellipse cx="895.2" cy="633.3" rx="30" ry="24.8" fill="none" stroke="#ed1c24" stroke-width="4"/>
</svg>
<div class="abs" id="ann" style="left:1151.2px;top:302px;height:34px;line-height:34px;font-family:'Liberation Mono',monospace;font-weight:bold;font-size:29px;color:#ed1c24;"><span>1</span><span>1</span><span>3</span><span class="dot">.</span><span>9</span><span>5</span></div>
<style>
#ann span{display:inline-block;width:26.7px;text-align:center;}
#ann span.dot{text-align:left;text-indent:-4.5px;}
</style>
</body></html>
